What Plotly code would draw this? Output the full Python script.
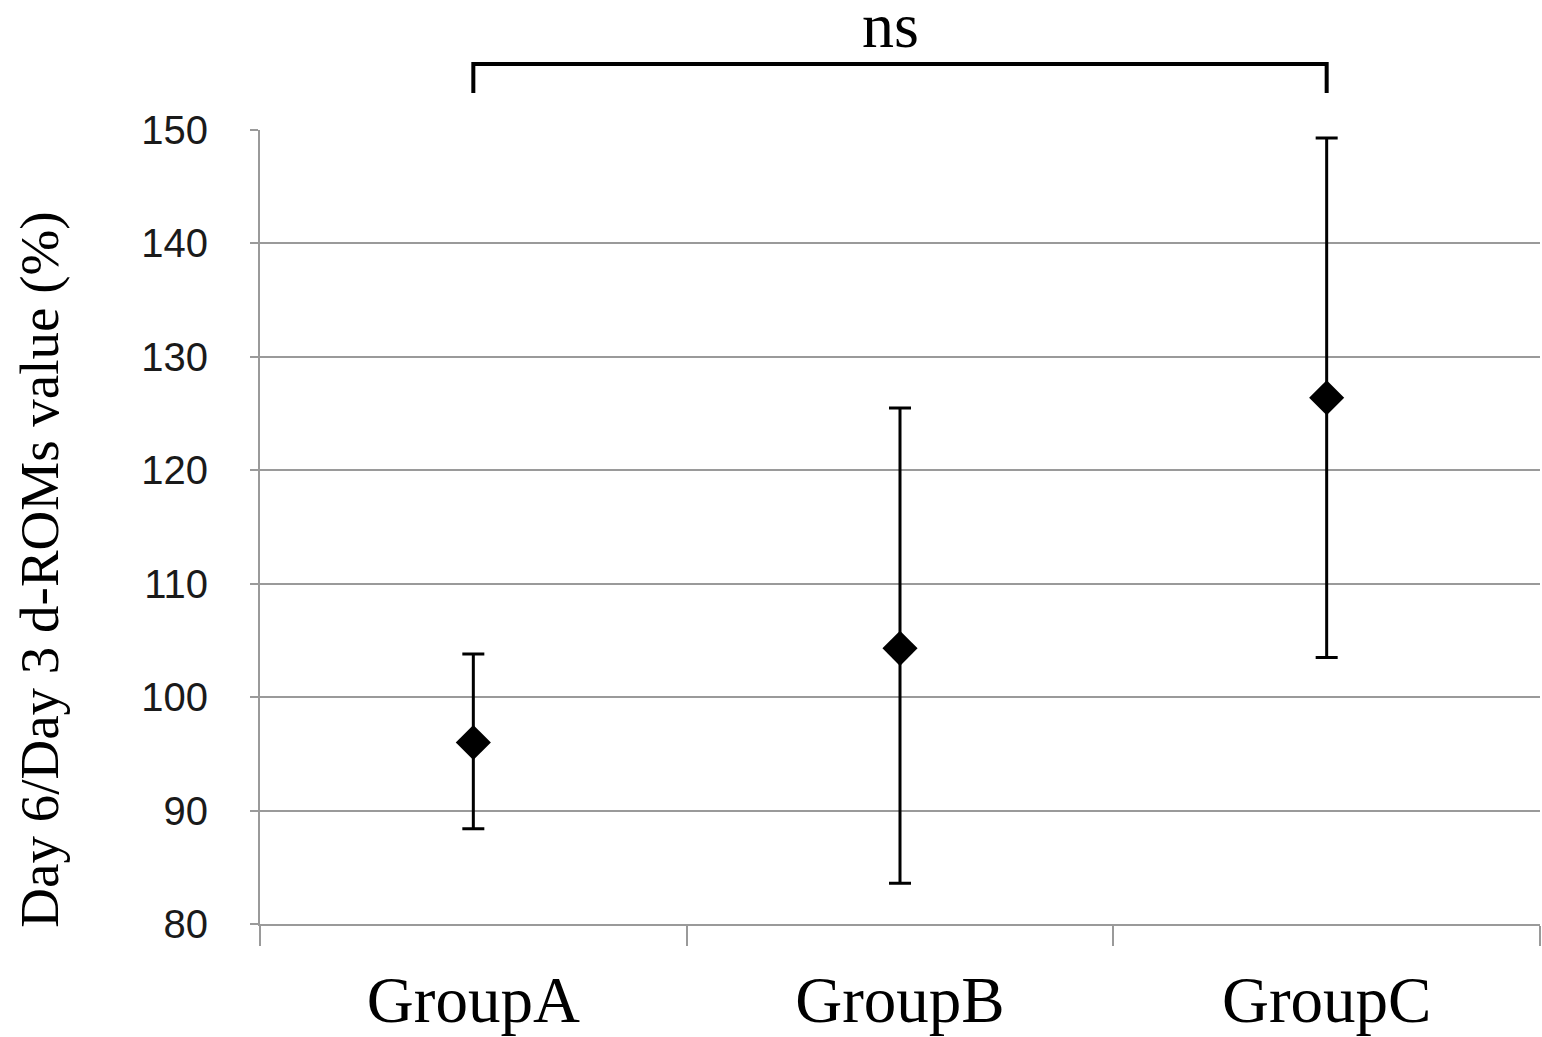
import plotly.graph_objects as go

groups = ["GroupA", "GroupB", "GroupC"]
means = [96.0, 104.3, 126.4]
err_plus = [7.8, 21.2, 22.9]
err_minus = [7.6, 20.7, 22.9]

y_ticks = [80, 90, 100, 110, 120, 130, 140, 150]
y_title = "Day 6/Day 3 d-ROMs value (%)"
sig_label = "ns"
bracket_from = groups[0]
bracket_to = groups[2]

SERIF = "Liberation Serif, Times New Roman, serif"
SANS = "Liberation Sans, Arial, sans-serif"
GRID = "#9a9a9a"

fig = go.Figure()
fig.add_trace(go.Scatter(
    x=groups, y=means, mode="markers",
    marker=dict(symbol="diamond", size=27, color="black"),
    error_y=dict(type="data", symmetric=False, array=err_plus, arrayminus=err_minus,
                 color="black", thickness=3, width=11),
    showlegend=False, cliponaxis=False, hoverinfo="skip",
))

ia = groups.index(bracket_from)
ib = groups.index(bracket_to)
fig.add_shape(type="path",
              path=f"M {ia},1.0466 L {ia},1.0832 L {ib},1.0832 L {ib},1.0466",
              xref="x", yref="paper", line=dict(color="black", width=4))
fig.add_annotation(x=(ia + ib) / 2, y=1.131, xref="x", yref="paper",
                   text=sig_label, showarrow=False, xshift=-10,
                   font=dict(family=SERIF, size=64, color="black"),
                   xanchor="center", yanchor="middle")
fig.add_annotation(x=-0.172, y=0.446, xref="paper", yref="paper",
                   text=y_title, showarrow=False, textangle=-90,
                   font=dict(family=SERIF, size=55, color="black"),
                   xanchor="center", yanchor="middle")

fig.update_layout(
    width=1542, height=1037,
    margin=dict(l=260, r=2, t=130, b=113),
    plot_bgcolor="white", paper_bgcolor="white",
    xaxis=dict(
        range=[-0.5, 2.5], type="category",
        showgrid=False, showline=True, linecolor=GRID, linewidth=2,
        ticks="outside", tickson="boundaries", ticklen=20, tickcolor=GRID, tickwidth=1.5,
        tickfont=dict(family=SERIF, size=65, color="black"),
        ticklabelstandoff=18,
    ),
    yaxis=dict(
        range=[80, 150], tickvals=y_ticks,
        showgrid=True, gridcolor=GRID, gridwidth=2,
        showline=True, linecolor=GRID, linewidth=2,
        ticks="outside", ticklen=8, tickcolor=GRID, tickwidth=1.5,
        tickfont=dict(family=SANS, size=40, color="#1a1a1a"),
        ticklabelstandoff=34,
        zeroline=False,
    ),
)

fig.write_html("out.html", config={"displayModeBar": False},
               post_script="document.body.style.margin='0';document.body.style.overflow='hidden';")
